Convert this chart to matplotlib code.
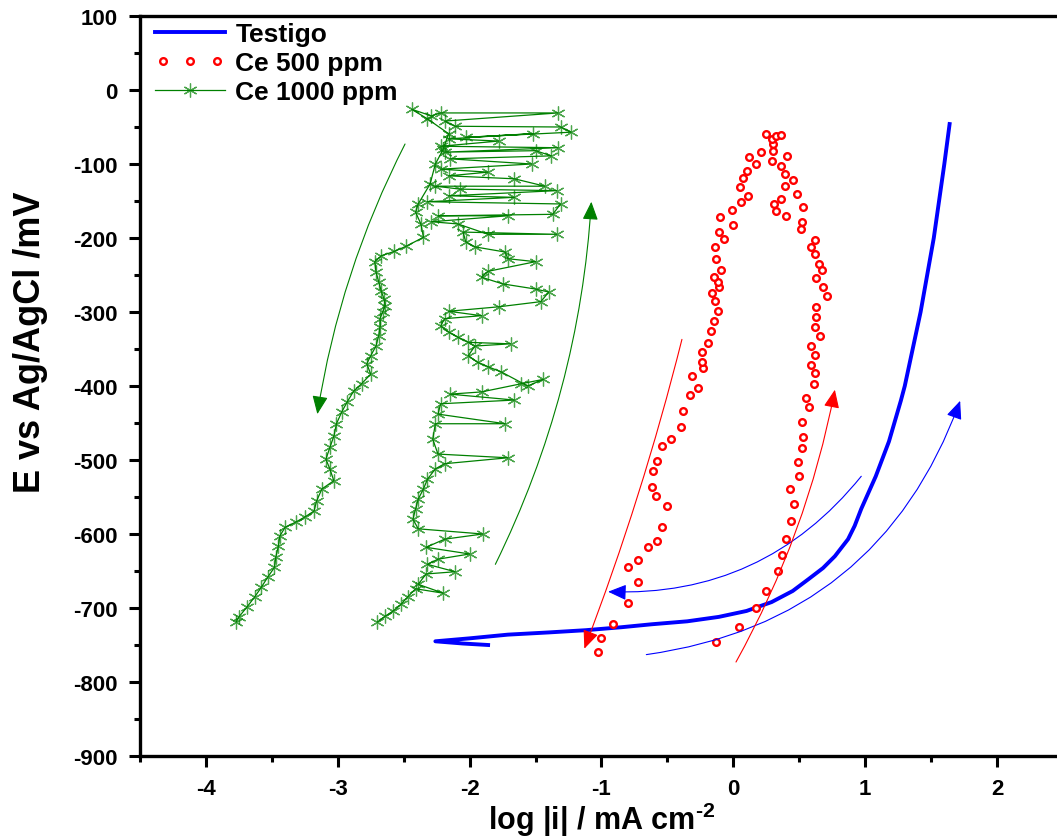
import matplotlib
matplotlib.use("Agg")
import matplotlib.pyplot as plt
from matplotlib.ticker import MultipleLocator
from matplotlib.legend_handler import HandlerLine2D

plt.rcParams['font.family'] = ['Liberation Sans', 'DejaVu Sans']
plt.rcParams['font.weight'] = 'bold'
plt.rcParams['axes.unicode_minus'] = False
plt.rcParams['mathtext.fontset'] = 'custom'
plt.rcParams['mathtext.rm'] = 'Liberation Sans:bold'
plt.rcParams['mathtext.bf'] = 'Liberation Sans:bold'

# Testigo (curva azul)
testigo_x = [-1.86, -2.05, -2.26, -2.00, -1.71, -1.40, -1.12, -0.85, -0.62, -0.35,
             -0.11, 0.10, 0.29, 0.45, 0.57, 0.68, 0.77, 0.87, 0.92, 0.97,
             1.02, 1.08, 1.18, 1.27, 1.30, 1.36, 1.42, 1.47, 1.52, 1.56,
             1.60, 1.64]
testigo_y = [-750, -748, -745, -741, -736, -733, -730, -726, -722, -718,
             -712, -704, -692, -677, -661, -646, -630, -607, -589, -566,
             -546, -522, -475, -420, -400, -350, -300, -250, -200, -150,
             -100, -46]

# Ce 500 ppm: rama de ida (abajo -> arriba) y de vuelta (arriba -> abajo)
ce500_x = [-1.03, -1.00, -0.91, -0.80, -0.72, -0.80, -0.72, -0.65, -0.58, -0.54,
           -0.50, -0.59, -0.62, -0.61, -0.58, -0.54, -0.47, -0.40, -0.38, -0.33,
           -0.27, -0.31, -0.23, -0.24, -0.24, -0.19, -0.17, -0.15, -0.12, -0.14,
           -0.16, -0.11, -0.12, -0.15, -0.09, -0.13, -0.14, -0.07, -0.11, 0.00,
           -0.10, -0.01, 0.06, 0.11, 0.05, 0.07, 0.10, 0.17, 0.12, 0.21,
           0.29, 0.30, 0.30, 0.29, 0.25, 0.32, 0.36,
           0.41, 0.36, 0.39, 0.45, 0.39, 0.48, 0.36, 0.31, 0.32, 0.40,
           0.53, 0.52, 0.51, 0.62, 0.59, 0.62, 0.65, 0.67, 0.63, 0.68,
           0.71, 0.63, 0.63, 0.62, 0.66, 0.59, 0.62, 0.59, 0.62, 0.61,
           0.55, 0.57, 0.52, 0.53, 0.52, 0.49, 0.50, 0.43, 0.46, 0.44,
           0.40, 0.37, 0.34, 0.25, 0.17, 0.04, -0.13]
ce500_y = [-760, -741, -722, -693, -665, -645, -635, -618, -609, -591,
           -562, -549, -537, -515, -501, -481, -472, -455, -434, -412,
           -403, -387, -376, -368, -354, -342, -326, -312, -299, -285,
           -274, -266, -259, -253, -243, -228, -212, -201, -192, -182,
           -172, -162, -151, -143, -131, -119, -109, -100, -91, -84,
           -96, -82, -73, -66, -59, -62, -61,
           -89, -103, -114, -122, -130, -141, -147, -154, -164, -170,
           -158, -178, -188, -203, -212, -222, -235, -243, -254, -266,
           -278, -293, -307, -320, -332, -346, -358, -372, -382, -397,
           -416, -428, -449, -469, -484, -503, -522, -539, -560, -582,
           -607, -628, -650, -677, -700, -726, -746]

# Ce 1000 ppm: barrido de ida (zigzag), regreso y rama izquierda
ce1000_x = [-2.70, -2.64, -2.58, -2.52, -2.47, -2.41, -2.20, -2.39, -2.33, -2.11,
            -2.32, -2.24, -2.00, -2.33, -2.19, -1.90, -2.39, -2.43, -2.41, -2.39,
            -2.35, -2.32, -2.26, -2.19, -1.71, -2.24, -2.28, -2.26, -1.73, -2.24,
            -2.22, -1.66, -2.15, -1.91, -1.61, -1.44, -1.56, -1.76, -1.86, -1.94,
            -2.01, -1.96, -1.69, -2.01, -2.09, -2.16, -2.22, -2.19, -1.91, -2.16,
            -1.78, -1.46, -1.40, -1.50, -1.75, -1.91, -1.86, -1.50, -1.71, -1.73,
            -1.96, -2.03, -2.05, -1.34, -1.86, -2.09, -2.29, -1.71, -2.24, -1.37,
            -1.31, -2.32, -1.66, -2.16, -1.34, -2.07, -2.26, -1.43, -1.66, -2.16,
            -1.86, -2.22, -1.53, -2.15, -1.38, -1.50, -2.19, -1.33, -2.22, -1.78,
            -2.16, -1.52, -2.03, -1.23, -1.31, -2.11, -2.19, -1.33, -2.22, -2.29,
            -2.44,
            -2.32, -2.16, -2.20, -2.26, -2.30, -2.39, -2.41, -2.37, -2.35,
            -2.48, -2.57, -2.67, -2.72, -2.71, -2.69, -2.67, -2.65, -2.64, -2.66,
            -2.68, -2.68, -2.69, -2.71, -2.75, -2.78, -2.75, -2.82, -2.88, -2.93,
            -2.97, -3.01, -3.03, -3.06, -3.09, -3.06, -3.03, -3.12, -3.16, -3.18,
            -3.25, -3.32, -3.40, -3.44, -3.45, -3.47, -3.48, -3.53, -3.58, -3.63,
            -3.69, -3.75, -3.77]
ce1000_y = [-719, -711, -704, -695, -685, -674, -680, -668, -654, -651,
            -641, -634, -627, -618, -607, -600, -593, -580, -566, -553,
            -539, -526, -512, -505, -497, -492, -472, -451, -451, -438,
            -424, -419, -411, -408, -397, -391, -400, -381, -374, -368,
            -359, -346, -343, -341, -334, -327, -319, -309, -305, -299,
            -293, -286, -273, -269, -262, -253, -245, -232, -228, -219,
            -212, -205, -192, -195, -195, -181, -178, -170, -170, -168,
            -154, -151, -145, -143, -136, -134, -130, -130, -120, -116,
            -111, -107, -100, -93, -89, -82, -84, -78, -76, -69,
            -66, -59, -64, -57, -50, -49, -42, -31, -31, -35,
            -26,
            -39, -59, -80, -100, -127, -154, -165, -181, -199,
            -211, -218, -224, -232, -246, -259, -272, -282, -292, -300,
            -309, -320, -332, -346, -359, -370, -384, -397, -407, -422,
            -435, -451, -468, -483, -499, -512, -528, -539, -555, -569,
            -577, -584, -591, -603, -616, -631, -645, -658, -672, -685,
            -699, -712, -719]

# Flechas de sentido de barrido: (inicio, punta, curvatura, color)
arrows = [
    ((0.97, -522), (-0.95, -678), -0.25, 'blue'),
    ((-0.66, -763), (1.72, -420), 0.30, 'blue'),
    ((-0.39, -337), (-1.13, -755), -0.03, 'red'),
    ((0.02, -773), (0.77, -405), 0.08, 'red'),
    ((-2.49, -73), (-3.155, -438), 0.08, 'green'),
    ((-1.805, -641), (-1.077, -151), 0.10, 'green'),
]

fig = plt.figure(figsize=(10.57, 8.37), dpi=100)
ax = fig.add_axes([140 / 1057, 80 / 837, 923 / 1057, 740 / 837])

l1, = ax.plot(testigo_x, testigo_y, color='#0000FF', lw=2.8, label='Testigo')
l2, = ax.plot(ce500_x, ce500_y, ls='none', marker='o', ms=4.8, mfc='white',
              mec='#FF0000', mew=1.7, label='Ce 500 ppm')
l3, = ax.plot(ce1000_x, ce1000_y, color='#008000', lw=0.9, marker=(6, 2, 0),
              ms=10, mec=(0, 0.5, 0, 0.7), mew=0.9, label='Ce 1000 ppm')

for start, tip, rad, col in arrows:
    ax.annotate('', xy=tip, xytext=start,
                arrowprops=dict(arrowstyle='-|>,head_length=0.7,head_width=0.3',
                                color=col, lw=0.8, shrinkA=0, shrinkB=0,
                                mutation_scale=16,
                                connectionstyle=f'arc3,rad={rad}'))

ax.set_xlim(-4.5, 2.5)
ax.set_ylim(-900, 100)
ax.xaxis.set_major_locator(MultipleLocator(1))
ax.xaxis.set_minor_locator(MultipleLocator(0.5))
ax.yaxis.set_major_locator(MultipleLocator(100))
ax.yaxis.set_minor_locator(MultipleLocator(50))
ax.tick_params(which='major', direction='out', length=8, width=2.2,
               labelsize=16, pad=8)
ax.tick_params(which='minor', direction='out', length=4.5, width=2.2)
ax.tick_params(axis='x', which='both', top=False)
ax.tick_params(axis='y', which='both', right=False)
for s in ax.spines.values():
    s.set_linewidth(2.4)

ax.set_xlabel(r'log |i| / mA cm$^{\text{-2}}$', fontsize=22, fontweight='bold',
              labelpad=0)
ax.set_ylabel('E vs Ag/AgCl /mV', fontsize=26, fontweight='bold')
ax.yaxis.set_label_coords(-0.10, 0.56)

leg = ax.legend(handles=[l1, l2, l3], loc='upper left',
                bbox_to_anchor=(0.016, 0.992), frameon=False, fontsize=19,
                handlelength=2.65, handletextpad=0.4, labelspacing=0.2,
                borderpad=0, borderaxespad=0,
                handler_map={l2: HandlerLine2D(numpoints=3)})

fig.savefig('out.png', dpi=100)
